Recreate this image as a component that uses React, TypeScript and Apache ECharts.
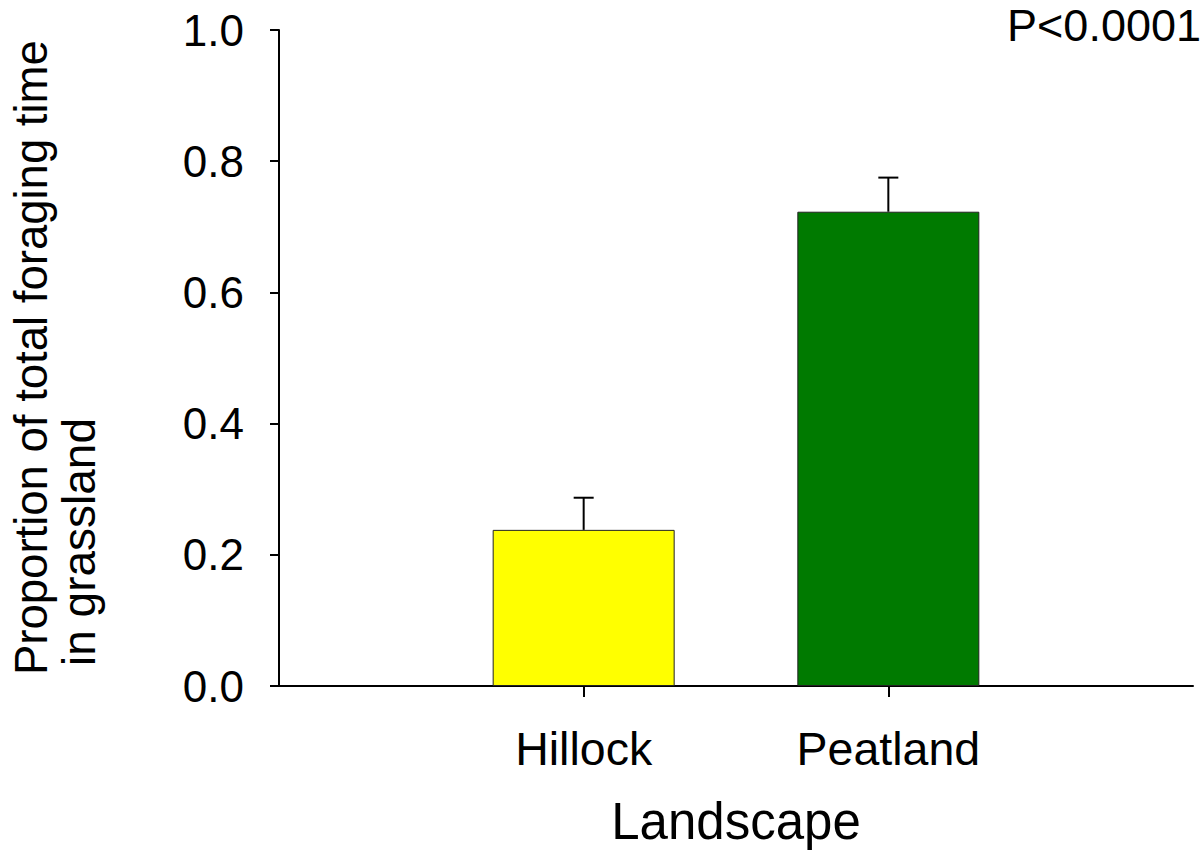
import React, { useEffect, useRef } from "react";
import * as echarts from "echarts";

const categories = ["", "Hillock", "Peatland", ""];
const means = [null, 0.238, 0.723, null];
const upperErrors = [null, 0.287, 0.775, null];
const barColors = ["#ffffff", "#ffff00", "#007a00", "#ffffff"];
const yTicks = [0, 0.2, 0.4, 0.6, 0.8, 1.0];
const yTitleLine1 = "Proportion of total foraging time";
const yTitleLine2 = "in grassland";
const xTitle = "Landscape";
const pText = "P<0.0001";

const FONT = "'Liberation Sans', Arial, Helvetica, sans-serif";

export default function App() {
  const ref = useRef<HTMLDivElement>(null);
  useEffect(() => {
    document.body.style.margin = "0";
    if (!ref.current) return;
    const chart = echarts.init(ref.current, null, { renderer: "svg" });
    const errData = categories
      .map((c, i) => (means[i] == null ? null : [i, means[i], upperErrors[i]]))
      .filter((d) => d != null);
    chart.setOption({
      animation: false,
      backgroundColor: "#ffffff",
      textStyle: { fontFamily: FONT },
      grid: { left: 279, right: 11, top: 30, bottom: 164, containLabel: false },
      xAxis: {
        type: "category",
        data: categories,
        boundaryGap: false,
        axisLine: { show: true, lineStyle: { color: "#000", width: 2 } },
        axisTick: {
          show: true,
          length: 11,
          interval: (i: number) => i === 1 || i === 2,
          lineStyle: { color: "#000", width: 2 },
        },
        axisLabel: {
          show: true,
          interval: 0,
          margin: 39,
          fontSize: 46.5,
          color: "#000",
          fontFamily: FONT,
        },
        splitLine: { show: false },
      },
      yAxis: {
        type: "value",
        min: 0,
        max: 1,
        interval: 0.2,
        axisLine: { show: true, lineStyle: { color: "#000", width: 2 } },
        axisTick: { show: true, length: 9, lineStyle: { color: "#000", width: 2 } },
        axisLabel: {
          margin: 35,
          fontSize: 44,
          color: "#000",
          fontFamily: FONT,
          formatter: (v: number) => {
            const t = yTicks.find((x) => Math.abs(x - v) < 1e-9);
            return (t ?? v).toFixed(1);
          },
        },
        splitLine: { show: false },
      },
      series: [
        {
          type: "bar",
          barWidth: 182,
          data: means.map((v, i) => ({
            value: v,
            itemStyle: { color: barColors[i], borderColor: "#222", borderWidth: 1 },
          })),
          z: 2,
        },
        {
          type: "custom",
          z: 3,
          data: errData,
          renderItem: (params: any, api: any) => {
            const x = api.value(0);
            const p0 = api.coord([x, api.value(1)]);
            const p1 = api.coord([x, api.value(2)]);
            const half = 10;
            return {
              type: "group",
              children: [
                {
                  type: "line",
                  shape: { x1: p0[0], y1: p0[1], x2: p1[0], y2: p1[1] },
                  style: { stroke: "#000", lineWidth: 2 },
                },
                {
                  type: "line",
                  shape: { x1: p1[0] - half, y1: p1[1], x2: p1[0] + half, y2: p1[1] },
                  style: { stroke: "#000", lineWidth: 2 },
                },
              ],
            };
          },
        },
      ],
      graphic: [
        {
          type: "text",
          x: 31,
          y: 675,
          rotation: Math.PI / 2,
          style: {
            text: yTitleLine1,
            fontSize: 45.5,
            fontFamily: FONT,
            fill: "#000",
            align: "left",
            verticalAlign: "middle",
          },
        },
        {
          type: "text",
          x: 79,
          y: 666,
          rotation: Math.PI / 2,
          style: {
            text: yTitleLine2,
            fontSize: 46,
            fontFamily: FONT,
            fill: "#000",
            align: "left",
            verticalAlign: "middle",
          },
        },
        {
          type: "text",
          x: 736,
          y: 821,
          style: {
            text: xTitle,
            fontSize: 51,
            fontFamily: FONT,
            fill: "#000",
            align: "center",
            verticalAlign: "middle",
          },
        },
        {
          type: "text",
          x: 1201,
          y: 25,
          style: {
            text: pText,
            fontSize: 45,
            fontFamily: FONT,
            fill: "#000",
            align: "right",
            verticalAlign: "middle",
          },
        },
      ],
    });
    return () => chart.dispose();
  }, []);
  return <div ref={ref} style={{ width: 1204, height: 850 }} />;
}
